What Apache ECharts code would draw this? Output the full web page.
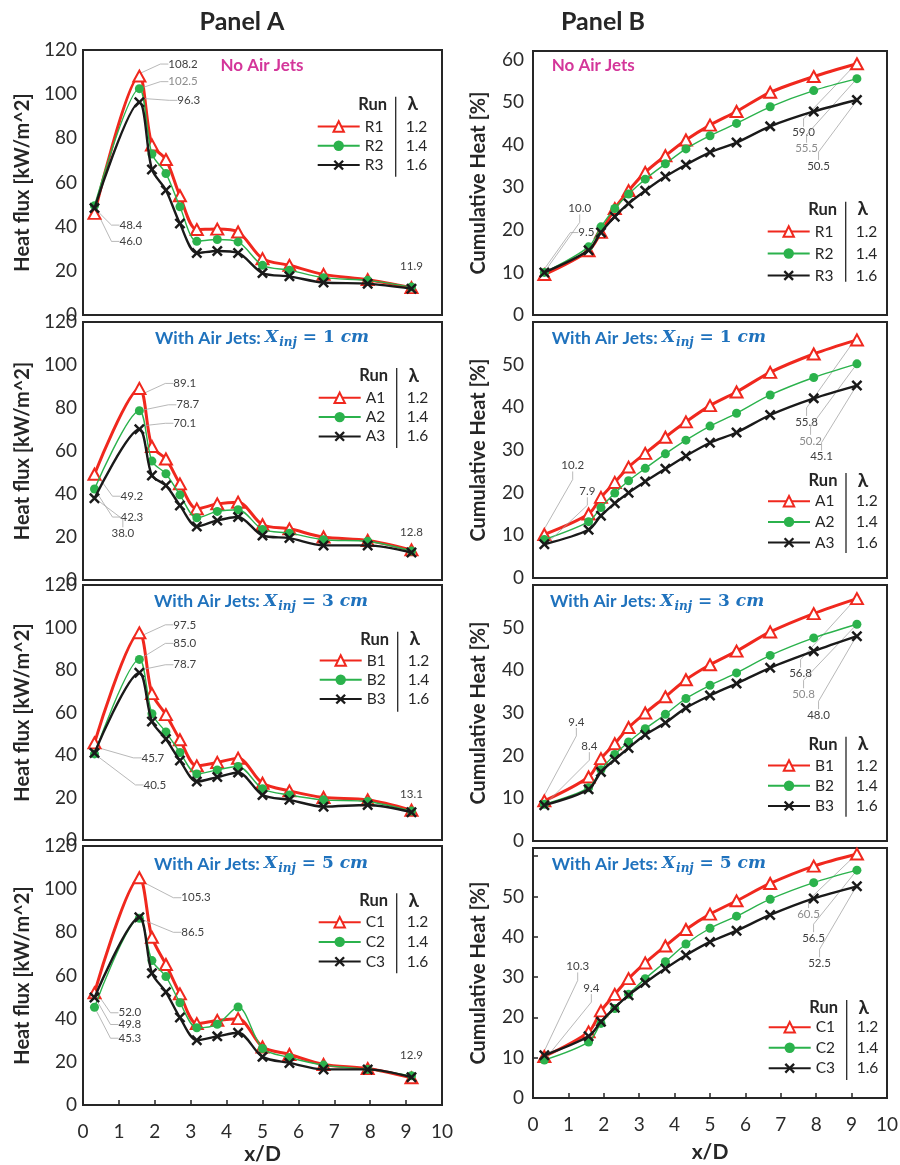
<!DOCTYPE html>
<html>
<head>
<meta charset="utf-8">
<script src="https://cdn.jsdelivr.net/npm/echarts@6/dist/echarts.min.js"></script>
<style>
  html, body { margin: 0; padding: 0; background: #fff; }
  #chart { width: 900px; height: 1165px; }
</style>
</head>
<body>
<div id="chart"></div>
<script>
// thermocouple positions, x/D
const X_D = [0.32, 1.57, 1.92, 2.31, 2.70, 3.17, 3.74, 4.32, 5.00, 5.75, 6.70, 7.93, 9.15]
const LAMBDA = ['1.2', '1.4', '1.6']

// Panel A: heat flux [kW/m^2]
const FLUX_R1 = [46.0, 108.2, 77.0, 70.4, 54.0, 38.7, 38.9, 37.6, 25.5, 22.5, 18.4, 16.0, 12.4]
const FLUX_R2 = [49.5, 102.5, 72.9, 64.1, 49.0, 33.4, 34.2, 33.1, 22.5, 20.3, 16.9, 15.7, 12.7]
const FLUX_R3 = [48.4, 96.3, 65.9, 56.5, 41.4, 28.1, 29.0, 28.1, 19.0, 17.5, 14.7, 14.2, 11.9]
const FLUX_A1 = [49.2, 89.1, 62.1, 56.3, 44.7, 33.1, 35.4, 36.2, 25.7, 23.8, 20.0, 18.4, 14.0]
const FLUX_A2 = [42.3, 78.7, 55.3, 49.4, 39.6, 28.9, 31.9, 32.7, 23.5, 21.8, 18.7, 18.0, 13.5]
const FLUX_A3 = [38.0, 70.1, 48.6, 44.0, 34.7, 24.9, 27.7, 29.3, 20.7, 19.5, 16.1, 16.1, 12.8]
const FLUX_B1 = [45.7, 97.5, 68.9, 59.0, 47.2, 34.9, 36.5, 38.5, 26.7, 23.1, 20.0, 18.9, 14.0]
const FLUX_B2 = [40.5, 85.0, 59.4, 50.8, 41.2, 31.1, 33.0, 34.6, 24.1, 21.2, 18.9, 18.1, 13.6]
const FLUX_B3 = [41.0, 78.7, 55.8, 47.5, 37.4, 27.5, 29.6, 31.8, 21.2, 18.9, 15.7, 16.5, 13.1]
const FLUX_C1 = [52.0, 105.3, 77.7, 65.1, 51.5, 37.7, 39.2, 40.0, 26.9, 23.4, 18.8, 16.9, 12.6]
const FLUX_C2 = [45.3, 86.5, 66.9, 59.5, 47.4, 35.8, 37.4, 45.4, 26.2, 22.0, 18.5, 16.5, 13.6]
const FLUX_C3 = [49.8, 87.0, 61.1, 52.3, 40.5, 30.0, 31.8, 33.5, 22.3, 19.5, 16.5, 16.5, 12.9]

// Panel B: cumulative heat [%]
const CUM_R1 = [9.5, 15.1, 19.4, 25.0, 29.2, 33.5, 37.4, 41.1, 44.6, 47.8, 52.3, 56.0, 59.0]
const CUM_R2 = [10.0, 16.0, 20.7, 25.0, 28.4, 31.9, 35.5, 39.0, 42.1, 45.0, 48.9, 52.7, 55.5]
const CUM_R3 = [10.0, 15.2, 19.4, 23.1, 26.2, 29.2, 32.5, 35.3, 38.2, 40.5, 44.3, 47.8, 50.5]
const CUM_A1 = [10.2, 15.0, 18.9, 22.4, 26.0, 29.2, 33.0, 36.6, 40.4, 43.6, 48.2, 52.5, 55.8]
const CUM_A2 = [9.0, 13.2, 16.5, 19.9, 22.8, 25.7, 29.1, 32.3, 35.6, 38.6, 42.9, 47.0, 50.2]
const CUM_A3 = [7.9, 11.3, 14.6, 17.5, 20.0, 22.6, 25.6, 28.6, 31.7, 34.1, 38.2, 42.1, 45.1]
const CUM_B1 = [9.4, 15.0, 19.3, 22.8, 26.6, 30.0, 33.8, 37.8, 41.3, 44.5, 49.0, 53.3, 56.8]
const CUM_B2 = [8.6, 12.5, 16.7, 20.3, 23.2, 26.3, 29.7, 33.4, 36.5, 39.4, 43.5, 47.6, 50.8]
const CUM_B3 = [8.4, 12.1, 16.2, 19.1, 21.8, 24.9, 27.7, 31.2, 34.1, 36.9, 40.6, 44.5, 48.0]
const CUM_C1 = [10.3, 16.4, 21.6, 25.7, 29.6, 33.5, 37.7, 41.8, 45.6, 48.9, 53.2, 57.5, 60.5]
const CUM_C2 = [9.4, 13.9, 18.5, 22.2, 25.7, 29.6, 33.8, 38.2, 42.1, 45.1, 49.3, 53.4, 56.5]
const CUM_C3 = [10.6, 15.3, 18.9, 22.4, 25.5, 28.6, 32.1, 35.4, 38.7, 41.5, 45.4, 49.5, 52.5]

// data labels with leader lines: [series, point, dx, dy, anchor, light]
// anchor: l = text starts at dx, r = text ends at dx, c = centred, no leader
const NOTES_1A = [[0, 1, 29, -12, 'l'], [1, 1, 29, -7, 'l', 1], [2, 1, 38, -2, 'l'], [2, 0, 25, 17, 'l'], [0, 0, 25, 28, 'l'], [2, 12, 0, -22, 'c']]
const NOTES_2A = [[0, 1, 34, -5, 'l'], [1, 1, 37, -6, 'l'], [2, 1, 34, -6, 'l'], [0, 0, 26, 22, 'l'], [1, 0, 26, 28, 'l'], [2, 0, 17, 35, 'l'], [2, 12, 0, -20, 'c']]
const NOTES_3A = [[0, 1, 34, -8, 'l'], [1, 1, 34, -16, 'l'], [2, 1, 34, -8, 'l'], [0, 0, 47, 15, 'l'], [1, 0, 49, 31, 'l'], [2, 12, 0, -18, 'c']]
const NOTES_4A = [[0, 1, 42, 20, 'l'], [1, 1, 42, 14, 'l'], [0, 0, 24, 20, 'l'], [2, 0, 24, 27, 'l'], [1, 0, 24, 31, 'l'], [2, 12, 0, -22, 'c']]
const NOTES_1B = [[0, 12, -42, 69, 'r'], [1, 12, -39, 70, 'r', 1], [2, 12, -27, 66, 'r'], [2, 0, 24, -64, 'l'], [0, 0, 34, -42, 'l']]
const NOTES_2B = [[0, 12, -39, 82, 'r'], [1, 12, -35, 77, 'r', 1], [2, 12, -24, 71, 'r'], [0, 0, 17, -69, 'l'], [2, 0, 35, -53, 'l']]
const NOTES_3B = [[0, 12, -45, 75, 'r'], [1, 12, -42, 70, 'r', 1], [2, 12, -27, 79, 'r'], [0, 0, 24, -79, 'l'], [2, 0, 37, -59, 'l']]
const NOTES_4B = [[0, 12, -37, 60, 'r', 1], [1, 12, -32, 68, 'r'], [2, 12, -26, 77, 'r'], [0, 0, 22, -90, 'l'], [1, 0, 39, -72, 'l']]

const FONT = 'Lato, "Open Sans", sans-serif'
const MATH = '"DejaVu Serif", serif'
const RED = '#f0281e'
const GREEN = '#2bb24c'
const BLACK = '#1a1a1a'
const INK = '#262626'
const MAGENTA = '#d4369a'
const BLUE = '#1f72bd'
const X_MARK = 'path://M1.6,0L5,3.4L8.4,0L10,1.6L6.6,5L10,8.4L8.4,10L5,6.6L1.6,10L0,8.4L3.4,5L0,1.6Z'

const SERIES_STYLE = [
  { symbol: 'triangle', symbolSize: [12, 11], lineStyle: { color: RED, width: 3 }, itemStyle: { color: '#fff', borderColor: RED, borderWidth: 2 } },
  { symbol: 'circle', symbolSize: 9, lineStyle: { color: GREEN, width: 1.4 }, itemStyle: { color: GREEN } },
  { symbol: X_MARK, symbolSize: 11, lineStyle: { color: BLACK, width: 2.4 }, itemStyle: { color: BLACK } }
]

const PANELS = [
  { col: 0, grid: [83, 50, 359, 265], ymax: 120, step: 20, names: ['R1', 'R2', 'R3'], data: [FLUX_R1, FLUX_R2, FLUX_R3], notes: NOTES_1A, bar: [395.7, 96.7], rows: 29.3, pitch: 18.3, sub: null, subAt: [262, 66] },
  { col: 0, grid: [83, 322, 359, 258], ymax: 120, step: 20, names: ['A1', 'A2', 'A3'], data: [FLUX_A1, FLUX_A2, FLUX_A3], notes: NOTES_2A, bar: [396.7, 368], rows: 29.3, pitch: 18.3, sub: '1', subAt: [262, 338] },
  { col: 0, grid: [83, 585, 359, 255], ymax: 120, step: 20, names: ['B1', 'B2', 'B3'], data: [FLUX_B1, FLUX_B2, FLUX_B3], notes: NOTES_3A, bar: [397.7, 631.7], rows: 28.3, pitch: 18.3, sub: '3', subAt: [261, 601.7] },
  { col: 0, grid: [83, 846, 359, 259], ymax: 120, step: 20, names: ['C1', 'C2', 'C3'], data: [FLUX_C1, FLUX_C2, FLUX_C3], notes: NOTES_4A, bar: [396.7, 893.3], rows: 28.4, pitch: 18.7, sub: '5', subAt: [261, 864], last: true, xNameGap: 39 },
  { col: 1, grid: [533, 51, 354, 264], ymax: 62, step: 10, names: ['R1', 'R2', 'R3'], data: [CUM_R1, CUM_R2, CUM_R3], notes: NOTES_1B, bar: [845.7, 201.7], rows: 29.3, pitch: 21, sub: null, subAt: [551.7, 66] },
  { col: 1, grid: [533, 322, 354, 256], ymax: 60, step: 10, hide: [60], names: ['A1', 'A2', 'A3'], data: [CUM_A1, CUM_A2, CUM_A3], notes: NOTES_2B, bar: [846, 473], rows: 27.7, pitch: 19.7, sub: '1', subAt: [551.7, 338] },
  { col: 1, grid: [533, 585, 354, 256], ymax: 60, step: 10, hide: [60], names: ['B1', 'B2', 'B3'], data: [CUM_B1, CUM_B2, CUM_B3], notes: NOTES_3B, bar: [846, 736.7], rows: 28.3, pitch: 19.2, sub: '3', subAt: [550, 601.7] },
  { col: 1, grid: [533, 848, 354, 250], ymax: 62, step: 10, hide: [60], names: ['C1', 'C2', 'C3'], data: [CUM_C1, CUM_C2, CUM_C3], notes: NOTES_4B, bar: [846.7, 1000], rows: 26.7, pitch: 19.5, sub: '5', subAt: [551.7, 864], last: true, xNameGap: 44, yTicks: true }
]

const grids = []
const xAxes = []
const yAxes = []
const series = []
const legends = []
const graphics = [
  { type: 'text', x: 242, y: 22, style: { text: 'Panel A', fontFamily: FONT, fontWeight: 'bold', fontSize: 25, fill: INK, textAlign: 'center', textVerticalAlign: 'middle' } },
  { type: 'text', x: 603, y: 22, style: { text: 'Panel B', fontFamily: FONT, fontWeight: 'bold', fontSize: 25, fill: INK, textAlign: 'center', textVerticalAlign: 'middle' } }
]

PANELS.forEach((p, k) => {
  grids.push({
    left: p.grid[0], top: p.grid[1], width: p.grid[2], height: p.grid[3],
    show: true, borderColor: INK, borderWidth: 2, backgroundColor: 'transparent',
    containLabel: false, outerBoundsMode: 'none'
  })

  xAxes.push({
    type: 'value', gridIndex: k, min: 0, max: 10, interval: 1,
    axisLine: { show: false },
    splitLine: { show: false },
    axisTick: { show: !!p.last, inside: true, length: 5, lineStyle: { color: INK, width: 1.5 } },
    axisLabel: { show: !!p.last, fontFamily: FONT, fontSize: 19, color: '#2b2b2b', margin: 17 },
    name: p.last ? 'x/D' : '',
    nameLocation: 'middle',
    nameGap: p.xNameGap || 40,
    nameTextStyle: { fontFamily: FONT, fontSize: 21, fontWeight: 'bold', color: INK }
  })

  const hide = p.hide || []
  yAxes.push({
    type: 'value', gridIndex: k, min: 0, max: p.ymax, interval: p.step,
    name: p.col === 0 ? 'Heat flux [kW/m^2]' : 'Cumulative Heat [%]',
    nameLocation: 'middle',
    nameGap: p.col === 0 ? 50 : 44,
    nameTextStyle: { fontFamily: FONT, fontSize: 20, fontWeight: 'bold', color: INK },
    axisLine: { show: false },
    splitLine: { show: false },
    axisTick: { show: !!p.yTicks, inside: true, length: 5, lineStyle: { color: INK, width: 1.5 } },
    axisLabel: {
      fontFamily: FONT, fontSize: 19, color: '#2b2b2b', margin: p.col === 0 ? 6 : 9,
      formatter: v => (v % p.step !== 0 || hide.includes(v)) ? '' : String(v)
    }
  })

  p.names.forEach((name, j) => {
    const st = SERIES_STYLE[j]
    const notes = {}
    p.notes.filter(n => n[0] === j).forEach(n => { notes[n[1]] = n })
    series.push({
      type: 'line', name, xAxisIndex: k, yAxisIndex: k,
      smooth: 0.3, showAllSymbol: true,
      symbol: st.symbol, symbolSize: st.symbolSize,
      lineStyle: st.lineStyle, itemStyle: st.itemStyle,
      z: 2 + j,
      emphasis: { disabled: true },
      label: { show: false, fontFamily: FONT, fontSize: 11.5, color: '#404040', formatter: d => d.value[1].toFixed(1) },
      labelLine: { show: false, length2: 8, lineStyle: { color: '#a6a6a6', width: 0.8 } },
      labelLayout: d => {
        const n = notes[d.dataIndex]
        if (!n) return {}
        const cx = d.rect.x + d.rect.width / 2
        const cy = d.rect.y + d.rect.height / 2
        return { x: cx + n[2], y: cy + n[3], align: n[4] === 'r' ? 'right' : n[4] === 'c' ? 'center' : 'left', verticalAlign: 'middle' }
      },
      data: p.data[j].map((v, i) => {
        const n = notes[i]
        if (!n) return [X_D[i], v]
        return {
          value: [X_D[i], v],
          label: { show: true, color: n[5] ? '#8c8c8c' : '#404040' },
          labelLine: { show: n[4] !== 'c' }
        }
      })
    })
  })

  const [bx, by] = [p.bar[0], p.bar[1]]
  legends.push({
    orient: 'vertical', left: bx - 79, top: by + p.rows - 7.5, padding: 0,
    itemWidth: 42, itemHeight: 13, itemGap: p.pitch - 15,
    selectedMode: false,
    data: p.names,
    formatter: name => `{n|${name}}{v|${LAMBDA[p.names.indexOf(name)]}}`,
    textStyle: {
      fontFamily: FONT, fontSize: 15, color: INK,
      rich: {
        n: { width: 41, fontFamily: FONT, fontSize: 15.5, color: INK },
        v: { fontFamily: FONT, fontSize: 15.5, color: INK }
      }
    }
  })

  graphics.push(
    { type: 'line', shape: { x1: bx, y1: by, x2: bx, y2: by + 80 }, style: { stroke: INK, lineWidth: 1.3 } },
    { type: 'text', x: bx - 23, y: by + 7.5, style: { text: 'Run', fontFamily: FONT, fontWeight: 'bold', fontSize: 16.5, fill: INK, textAlign: 'center', textVerticalAlign: 'middle' } },
    { type: 'text', x: bx + 17, y: by + 7.5, style: { text: 'λ', fontFamily: FONT, fontWeight: 'bold', fontSize: 19, fill: INK, textAlign: 'center', textVerticalAlign: 'middle' } }
  )

  const align = p.col === 0 ? 'center' : 'left'
  if (p.sub === null) {
    graphics.push({ type: 'text', x: p.subAt[0], y: p.subAt[1], style: { text: 'No Air Jets', fontFamily: FONT, fontWeight: 'bold', fontSize: 17, fill: MAGENTA, textAlign: align, textVerticalAlign: 'middle' } })
  } else {
    graphics.push({
      type: 'text', x: p.subAt[0], y: p.subAt[1],
      style: {
        text: `{a|With Air Jets: }{m|X}{s|inj}{e| = ${p.sub} }{m|cm}`,
        textAlign: align, textVerticalAlign: 'middle',
        rich: {
          a: { fontFamily: FONT, fontWeight: 'bold', fontSize: 17.5, fill: BLUE },
          m: { fontFamily: MATH, fontStyle: 'italic', fontWeight: 'bold', fontSize: 17, fill: BLUE },
          s: { fontFamily: MATH, fontStyle: 'italic', fontWeight: 'bold', fontSize: 12, fill: BLUE, padding: [10, 0, 0, 1] },
          e: { fontFamily: MATH, fontWeight: 'bold', fontSize: 17, fill: BLUE }
        }
      }
    })
  }
})

const chart = echarts.init(document.getElementById('chart'))
chart.setOption({
  animation: false,
  backgroundColor: '#fff',
  grid: grids,
  xAxis: xAxes,
  yAxis: yAxes,
  legend: legends,
  graphic: graphics,
  series
})
</script>
</body>
</html>
